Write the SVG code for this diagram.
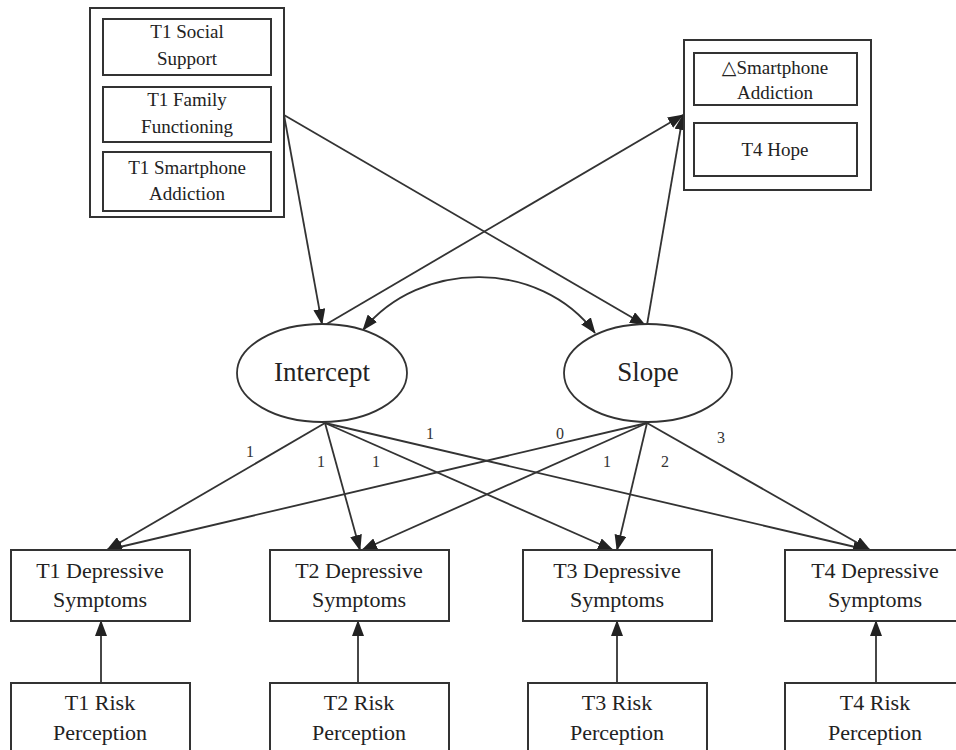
<svg xmlns="http://www.w3.org/2000/svg" width="956" height="750" viewBox="0 0 956 750">
<style>
.box{fill:#fff;stroke:#333;stroke-width:2}
.ell{fill:#fff;stroke:#333;stroke-width:1.8}
.t{fill:#222;text-anchor:middle}
.s19{font-size:19px}
.s22{font-size:22px}
.s26{font-size:27px}
.lbl{font-size:16px;fill:#333;text-anchor:middle}
.e{fill:none;stroke:#333;stroke-width:1.8}
</style>
<defs>
<marker id="ah" markerWidth="16" markerHeight="12" refX="15" refY="6" orient="auto" markerUnits="userSpaceOnUse">
<path d="M0,0 L16,6 L0,12 Z" fill="#222"/>
</marker>
<marker id="ahs" markerWidth="16" markerHeight="12" refX="1" refY="6" orient="auto" markerUnits="userSpaceOnUse">
<path d="M16,0 L0,6 L16,12 Z" fill="#222"/>
</marker>
</defs>
<rect width="956" height="750" fill="#fff"/>
<g font-family="Liberation Serif, Times New Roman, Tinos, Noto Serif, DejaVu Serif, serif">
<g id="connectors">
<line class="e" x1="284" y1="115" x2="322" y2="324" marker-end="url(#ah)"/>
<line class="e" x1="284" y1="115" x2="645" y2="325" marker-end="url(#ah)"/>
<line class="e" x1="325" y1="325" x2="683" y2="115" marker-end="url(#ah)"/>
<line class="e" x1="647" y1="325" x2="683" y2="115" marker-end="url(#ah)"/>
<path class="e" d="M363,330 C420,259 540,259 595,333" marker-start="url(#ahs)" marker-end="url(#ah)"/>
<line class="e" x1="325" y1="423" x2="107" y2="550" marker-end="url(#ah)"/>
<line class="e" x1="325" y1="423" x2="360" y2="550" marker-end="url(#ah)"/>
<line class="e" x1="325" y1="423" x2="613" y2="550" marker-end="url(#ah)"/>
<line class="e" x1="325" y1="423" x2="868" y2="550" marker-end="url(#ah)"/>
<line class="e" x1="647" y1="423" x2="107" y2="550" marker-end="url(#ah)"/>
<line class="e" x1="647" y1="423" x2="362" y2="550" marker-end="url(#ah)"/>
<line class="e" x1="647" y1="423" x2="617" y2="550" marker-end="url(#ah)"/>
<line class="e" x1="647" y1="423" x2="870" y2="550" marker-end="url(#ah)"/>
<line class="e" x1="101" y1="683" x2="101" y2="621" marker-end="url(#ah)"/>
<line class="e" x1="358" y1="683" x2="358" y2="621" marker-end="url(#ah)"/>
<line class="e" x1="617" y1="683" x2="617" y2="621" marker-end="url(#ah)"/>
<line class="e" x1="876" y1="683" x2="876" y2="621" marker-end="url(#ah)"/>
<text class="lbl" x="250" y="457">1</text>
<text class="lbl" x="321" y="467">1</text>
<text class="lbl" x="376" y="467">1</text>
<text class="lbl" x="430" y="439">1</text>
<text class="lbl" x="560" y="439">0</text>
<text class="lbl" x="607" y="467">1</text>
<text class="lbl" x="665" y="467">2</text>
<text class="lbl" x="721" y="443">3</text>
</g>

<g id="predictors">
<rect class="box" x="90" y="8" width="194" height="209"/>
<g id="ss"><rect class="box" x="103" y="19" width="168" height="56"/>
<text class="t s19" x="187" y="38">T1 Social</text><text class="t s19" x="187" y="65">Support</text></g>
<g id="ff"><rect class="box" x="103" y="87" width="168" height="55"/>
<text class="t s19" x="187" y="106">T1 Family</text><text class="t s19" x="187" y="133">Functioning</text></g>
<g id="sa"><rect class="box" x="103" y="152" width="168" height="59"/>
<text class="t s19" x="187" y="174">T1 Smartphone</text><text class="t s19" x="187" y="200">Addiction</text></g>
</g>

<g id="outcomes">
<rect class="box" x="684" y="40" width="187" height="150"/>
<g id="dsa"><rect class="box" x="694" y="53" width="163" height="52"/>
<text class="t s19" x="775" y="74">△Smartphone</text><text class="t s19" x="775" y="99">Addiction</text></g>
<g id="hope"><rect class="box" x="694" y="123" width="163" height="53"/>
<text class="t s19" x="775" y="156">T4 Hope</text></g>
</g>

<g id="intercept"><ellipse class="ell" cx="322" cy="373" rx="85" ry="49"/>
<text class="t s26" x="322" y="381">Intercept</text></g>
<g id="slope"><ellipse class="ell" cx="648" cy="373" rx="84" ry="49"/>
<text class="t s26" x="648" y="381">Slope</text></g>

<g id="dep1"><rect class="box" x="11" y="550" width="179" height="71"/>
<text class="t s22" x="100" y="578">T1 Depressive</text><text class="t s22" x="100" y="607">Symptoms</text></g>
<g id="dep2"><rect class="box" x="270" y="550" width="179" height="71"/>
<text class="t s22" x="359" y="578">T2 Depressive</text><text class="t s22" x="359" y="607">Symptoms</text></g>
<g id="dep3"><rect class="box" x="523" y="550" width="189" height="71"/>
<text class="t s22" x="617" y="578">T3 Depressive</text><text class="t s22" x="617" y="607">Symptoms</text></g>
<g id="dep4"><rect class="box" x="785" y="550" width="180" height="71"/>
<text class="t s22" x="875" y="578">T4 Depressive</text><text class="t s22" x="875" y="607">Symptoms</text></g>

<g id="risk1"><rect class="box" x="11" y="683" width="179" height="80"/>
<text class="t s22" x="100" y="710">T1 Risk</text><text class="t s22" x="100" y="740">Perception</text></g>
<g id="risk2"><rect class="box" x="270" y="683" width="179" height="80"/>
<text class="t s22" x="359" y="710">T2 Risk</text><text class="t s22" x="359" y="740">Perception</text></g>
<g id="risk3"><rect class="box" x="528" y="683" width="179" height="80"/>
<text class="t s22" x="617" y="710">T3 Risk</text><text class="t s22" x="617" y="740">Perception</text></g>
<g id="risk4"><rect class="box" x="785" y="683" width="180" height="80"/>
<text class="t s22" x="875" y="710">T4 Risk</text><text class="t s22" x="875" y="740">Perception</text></g>
</g>
</svg>
